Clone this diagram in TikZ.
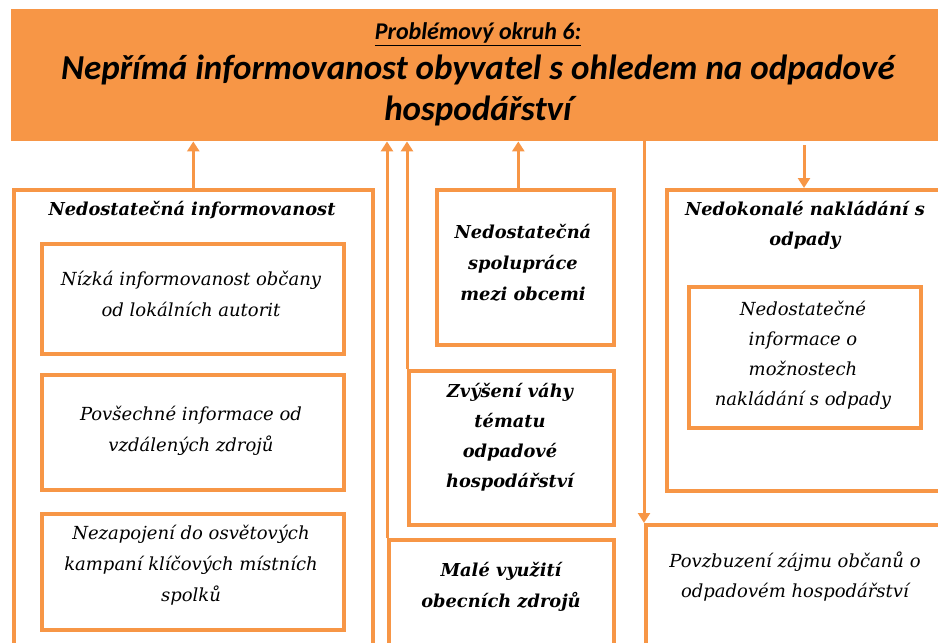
\documentclass[tikz,border=0pt]{standalone}
\usepackage{fontspec}
\setmainfont{DejaVu Serif}
\newfontfamily\titlefont{Carlito}
\usetikzlibrary{arrows.meta}
\definecolor{org}{HTML}{F79646}
\begin{document}
\begin{tikzpicture}[x=1pt,y=-1pt,
  box/.style={draw=org,line width=3.6pt,rectangle,inner sep=0pt,anchor=north west},
  conn/.style={draw=org,line width=3pt,-{Triangle[width=12pt,length=10pt]}},
  txt/.style={align=center,inner sep=0pt,font=\fontsize{18}{31}\selectfont\itshape},
  btxt/.style={align=center,inner sep=0pt,font=\fontsize{17.8}{31}\selectfont\bfseries\itshape}]
\path[use as bounding box] (0,0) rectangle (938,643);
\clip (0,0) rectangle (938,643);
% title
\node[fill=org,rectangle,inner sep=0pt,anchor=north west,minimum width=1000pt,minimum height=132pt] (title) at (11,9) {};
\node[inner sep=0pt,font=\titlefont\fontsize{24}{24}\selectfont\bfseries\itshape] (sub) at (478,34) {\underline{Problémový okruh 6:}};
\node[inner sep=0pt,align=center,font=\titlefont\fontsize{35}{41}\selectfont\bfseries\itshape] (head) at (478,90) {Nepřímá informovanost obyvatel s ohledem na odpadové\\hospodářství};
% boxes
\node[box,minimum width=359pt,minimum height=600pt] (outer) at (12,188) {};
\node[box,minimum width=302pt,minimum height=110pt] (b1) at (40,242) {};
\node[box,minimum width=302pt,minimum height=115pt] (b2) at (40,373) {};
\node[box,minimum width=302pt,minimum height=116pt] (b3) at (40,512) {};
\node[box,minimum width=177pt,minimum height=155pt] (sp) at (435,188) {};
\node[box,minimum width=205pt,minimum height=154pt] (zv) at (407,369) {};
\node[box,minimum width=225pt,minimum height=200pt] (ma) at (387,538) {};
\node[box,minimum width=400pt,minimum height=301pt] (nd) at (665,188) {};
\node[box,minimum width=232pt,minimum height=141pt] (ni) at (687,285) {};
\node[box,minimum width=400pt,minimum height=200pt] (po) at (644,523) {};
% texts
\node[btxt] (toutr) at (192,210) {Nedostatečná informovanost};
\node[txt] (tb1) at (191,294) {Nízká informovanost občany\\od lokálních autorit};
\node[txt] (tb2) at (191,431) {Povšechné informace od\\vzdálených zdrojů};
\node[txt] (tb3) at (191,565) {Nezapojení do osvětových\\kampaní klíčových místních\\spolků};
\node[btxt] (tsp) at (523,263) {Nedostatečná\\spolupráce\\mezi obcemi};
\node[btxt,font=\fontsize{17.8}{30}\selectfont\bfseries\itshape] (tzv) at (510,437) {Zvýšení váhy\\tématu\\odpadové\\hospodářství};
\node[btxt] (tma) at (501,587) {Malé využití\\obecních zdrojů};
\node[btxt,font=\fontsize{17.8}{30}\selectfont\bfseries\itshape] (tnd) at (805,225) {Nedokonalé nakládání s\\odpady};
\node[txt,font=\fontsize{18}{30}\selectfont\itshape] (tni) at (803,355) {Nedostatečné\\informace o\\možnostech\\nakládání s odpady};
\node[txt,font=\fontsize{18}{30}\selectfont\itshape] (tpo) at (795,577) {Povzbuzení zájmu občanů o\\odpadovém hospodářství};
% connectors
\coordinate (ndin) at (804,145);
\draw[conn] (outer.north) -- (outer.north |- title.south);
\draw[conn] (ma.north west) -- (ma.north west |- title.south);
\draw[conn] (zv.north west) -- (zv.north west |- title.south);
\draw[conn] ([xshift=-7pt]sp.north) -- ([xshift=-7pt]sp.north |- title.south);
\draw[conn] (po.north west |- title.south) -- (po.north west);
\draw[conn] (ndin) -- (ndin |- nd.north);
\end{tikzpicture}
\end{document}
